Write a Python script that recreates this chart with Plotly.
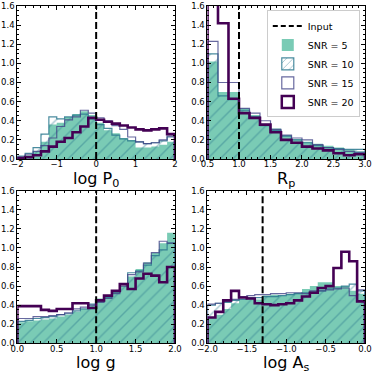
"""Posterior histograms for four parameters at several SNR values."""

import numpy as np
import plotly.graph_objects as go

# ---- data -----------------------------------------------------------------
snr_labels = ['SNR = 5', 'SNR = 10', 'SNR = 15', 'SNR = 20']

# bin ranges / counts for each panel
logp0_range = (-2.0, 2.0, 20)
rp_range = (0.5, 3.0, 15)
logg_range = (0.0, 2.0, 20)
logas_range = (-2.0, 0.0, 20)

# input (true) values
input_values = [0.0, 1.0, 1.0, -1.3]

logp0_snr5 = [0.02, 0.04, 0.08, 0.18, 0.36, 0.38, 0.44, 0.47, 0.50, 0.46,
              0.38, 0.30, 0.27, 0.22, 0.20, 0.12, 0.12, 0.13, 0.15, 0.18]
logp0_snr10 = [0.03, 0.06, 0.12, 0.26, 0.44, 0.42, 0.44, 0.46, 0.47, 0.42,
               0.36, 0.32, 0.25, 0.21, 0.19, 0.18, 0.16, 0.17, 0.19, 0.23]
logp0_snr15 = [0.02, 0.05, 0.08, 0.14, 0.22, 0.34, 0.41, 0.44, 0.51, 0.48,
               0.43, 0.40, 0.35, 0.31, 0.23, 0.18, 0.16, 0.17, 0.20, 0.24]
logp0_snr20 = [0.01, 0.02, 0.04, 0.08, 0.13, 0.18, 0.22, 0.28, 0.34, 0.43,
               0.41, 0.39, 0.37, 0.35, 0.33, 0.31, 0.30, 0.31, 0.32, 0.26]

rp_snr5 = [1.02, 0.70, 0.70, 0.53, 0.46, 0.37, 0.32, 0.25, 0.21, 0.18,
           0.16, 0.14, 0.12, 0.10, 0.08]
rp_snr10 = [1.10, 0.66, 0.62, 0.51, 0.44, 0.35, 0.30, 0.24, 0.20, 0.17,
            0.14, 0.12, 0.11, 0.10, 0.10]
rp_snr15 = [1.23, 0.80, 0.80, 0.53, 0.48, 0.40, 0.31, 0.25, 0.22, 0.20,
            0.15, 0.12, 0.10, 0.08, 0.07]
rp_snr20 = [2.20, 1.42, 0.63, 0.48, 0.43, 0.36, 0.28, 0.20, 0.17, 0.13,
            0.11, 0.09, 0.06, 0.04, 0.05]

logg_snr5 = [0.22, 0.23, 0.24, 0.25, 0.26, 0.28, 0.30, 0.33, 0.36, 0.40,
             0.47, 0.50, 0.55, 0.60, 0.70, 0.78, 0.85, 0.95, 1.05, 1.16]
logg_snr10 = [0.23, 0.24, 0.26, 0.27, 0.28, 0.30, 0.31, 0.34, 0.36, 0.41,
              0.44, 0.48, 0.53, 0.62, 0.74, 0.76, 0.82, 0.92, 0.98, 1.05]
logg_snr15 = [0.26, 0.26, 0.28, 0.28, 0.29, 0.30, 0.32, 0.36, 0.38, 0.40,
              0.43, 0.47, 0.52, 0.60, 0.72, 0.75, 0.84, 0.95, 1.07, 1.05]
logg_snr20 = [0.39, 0.39, 0.39, 0.35, 0.34, 0.36, 0.36, 0.42, 0.42, 0.37,
              0.45, 0.50, 0.55, 0.62, 0.57, 0.68, 0.73, 0.71, 0.64, 0.80]

logas_snr5 = [0.27, 0.30, 0.36, 0.42, 0.46, 0.47, 0.46, 0.50, 0.51, 0.50,
              0.52, 0.53, 0.57, 0.60, 0.64, 0.64, 0.60, 0.60, 0.55, 0.52]
logas_snr10 = [0.40, 0.42, 0.43, 0.45, 0.46, 0.48, 0.48, 0.49, 0.49, 0.50,
               0.51, 0.52, 0.53, 0.54, 0.55, 0.57, 0.58, 0.60, 0.62, 0.55]
logas_snr15 = [0.41, 0.42, 0.44, 0.46, 0.49, 0.50, 0.51, 0.51, 0.52, 0.52,
               0.53, 0.53, 0.52, 0.55, 0.55, 0.56, 0.57, 0.58, 0.50, 0.56]
logas_snr20 = [0.27, 0.33, 0.45, 0.55, 0.48, 0.47, 0.42, 0.41, 0.40, 0.41,
               0.42, 0.45, 0.49, 0.53, 0.58, 0.60, 0.79, 0.96, 0.86, 0.44]

# ---- style ----------------------------------------------------------------
FONT = 'DejaVu Sans'
C_SNR5 = 'rgba(34,168,132,0.6)'
C_SNR10 = 'rgba(42,120,142,0.85)'
C_SNR15 = 'rgba(65,68,135,0.8)'
C_SNR20 = '#440154'

panels = [
    dict(rng=logp0_range, data=[logp0_snr5, logp0_snr10, logp0_snr15, logp0_snr20],
         title='log P<sub>0</sub>', dtick=1, minor=0.2, fmt='d'),
    dict(rng=rp_range, data=[rp_snr5, rp_snr10, rp_snr15, rp_snr20],
         title='R<sub>p</sub>', dtick=0.5, minor=0.1, fmt='.1f'),
    dict(rng=logg_range, data=[logg_snr5, logg_snr10, logg_snr15, logg_snr20],
         title='log g', dtick=0.5, minor=0.1, fmt='.1f'),
    dict(rng=logas_range, data=[logas_snr5, logas_snr10, logas_snr15, logas_snr20],
         title='log A<sub>s</sub>', dtick=0.5, minor=0.1, fmt='.1f'),
]

x_domains = [[0.0463, 0.4679], [0.5548, 0.9759], [0.0463, 0.4679], [0.5548, 0.9759]]
y_domains = [[0.5737, 0.9839], [0.5737, 0.9839], [0.0796, 0.4887], [0.0796, 0.4887]]
title_y = [0.553, 0.553, 0.058, 0.058]


def step_path(edges, values):
    """Outline of a step histogram (used with line_shape='vh')."""
    xs = [edges[0]] + list(edges[1:]) + [edges[-1]]
    ys = [0] + list(values) + [0]
    return xs, ys


fig = go.Figure()

for i, p in enumerate(panels):
    lo, hi, n = p['rng']
    edges = np.linspace(lo, hi, n + 1)
    xa = 'x' if i == 0 else f'x{i + 1}'
    ya = 'y' if i == 0 else f'y{i + 1}'
    s5, s10, s15, s20 = p['data']

    xs, ys = step_path(edges, s5)
    fig.add_trace(go.Scatter(x=xs, y=ys, mode='lines', line_shape='vh',
                             line=dict(width=0, color=C_SNR5), fill='tozeroy',
                             fillcolor=C_SNR5, xaxis=xa, yaxis=ya,
                             showlegend=False, hoverinfo='skip'))
    xs, ys = step_path(edges, s10)
    fig.add_trace(go.Scatter(x=xs, y=ys, mode='lines', line_shape='vh',
                             line=dict(width=1.2, color=C_SNR10), fill='tozeroy',
                             fillcolor='rgba(0,0,0,0)',
                             fillpattern=dict(shape='/', fgcolor=C_SNR10,
                                              bgcolor='rgba(0,0,0,0)', size=9, solidity=0.16),
                             xaxis=xa, yaxis=ya, showlegend=False, hoverinfo='skip'))
    xs, ys = step_path(edges, s15)
    fig.add_trace(go.Scatter(x=xs, y=ys, mode='lines', line_shape='vh',
                             line=dict(width=1.2, color=C_SNR15),
                             xaxis=xa, yaxis=ya, showlegend=False, hoverinfo='skip'))
    xs, ys = step_path(edges, s20)
    fig.add_trace(go.Scatter(x=xs, y=ys, mode='lines', line_shape='vh',
                             line=dict(width=2.6, color=C_SNR20),
                             xaxis=xa, yaxis=ya, showlegend=False, hoverinfo='skip'))

    fig.add_shape(type='line', xref=xa, yref=f'{ya} domain',
                  x0=input_values[i], x1=input_values[i], y0=0, y1=1,
                  line=dict(color='black', width=2, dash='7px,3px'))

    axis_common = dict(showline=True, linecolor='black', linewidth=1, mirror='ticks',
                       ticks='inside', ticklen=4, tickwidth=1, tickcolor='black',
                       showgrid=False, zeroline=False, automargin=False,
                       tickfont=dict(family=FONT, size=8.5, color='black'))
    fig.layout[f'xaxis{i + 1}'] = dict(
        axis_common, domain=x_domains[i], anchor=ya, range=[lo, hi],
        dtick=p['dtick'], tick0=lo, tickformat=p['fmt'], ticklabelstandoff=-3,
        minor=dict(ticks='inside', ticklen=2, dtick=p['minor'], tickcolor='black'))
    fig.layout[f'yaxis{i + 1}'] = dict(
        axis_common, domain=y_domains[i], anchor=xa, range=[0, 1.6],
        dtick=0.2, tickformat='.1f',
        minor=dict(ticks='inside', ticklen=2, dtick=0.05, tickcolor='black'))

    # axis title
    fig.add_annotation(text=p['title'], xref='paper', yref='paper',
                       x=sum(x_domains[i]) / 2, y=title_y[i],
                       xanchor='center', yanchor='top', showarrow=False,
                       font=dict(family=FONT, size=16, color='black'))

# legend-only entries, attached to the top-right panel
fig.add_trace(go.Scatter(x=[None], y=[None], mode='lines', name='Input',
                         line=dict(color='black', width=2, dash='5px,3px'),
                         xaxis='x2', yaxis='y2'))
fig.add_trace(go.Bar(x=[None], y=[None], name=snr_labels[0],
                     marker=dict(color=C_SNR5, line=dict(width=0)),
                     xaxis='x2', yaxis='y2'))
fig.add_trace(go.Bar(x=[None], y=[None], name=snr_labels[1],
                     marker=dict(color='rgba(0,0,0,0)', line=dict(width=1.2, color=C_SNR10),
                                 pattern=dict(shape='/', fgcolor=C_SNR10,
                                              bgcolor='rgba(0,0,0,0)', size=6, solidity=0.2)),
                     xaxis='x2', yaxis='y2'))
fig.add_trace(go.Bar(x=[None], y=[None], name=snr_labels[2],
                     marker=dict(color='rgba(0,0,0,0)', line=dict(width=1.2, color=C_SNR15)),
                     xaxis='x2', yaxis='y2'))
fig.add_trace(go.Bar(x=[None], y=[None], name=snr_labels[3],
                     marker=dict(color='rgba(0,0,0,0)', line=dict(width=2.5, color=C_SNR20)),
                     xaxis='x2', yaxis='y2'))

fig.update_layout(
    width=374, height=373,
    margin=dict(l=0, r=0, t=0, b=0, autoexpand=False),
    paper_bgcolor='white', plot_bgcolor='white',
    font=dict(family=FONT, color='black'),
    barmode='overlay',
    legend=dict(x=0.962, y=0.972, xanchor='right', yanchor='top',
                bgcolor='white', bordercolor='#cccccc', borderwidth=1,
                font=dict(family=FONT, size=9.5, color='black'),
                tracegroupgap=0, itemwidth=30),
)

# the page's default body margin would shift the figure by 8px
fig.write_html("out.html", config={'displayModeBar': False},
               post_script="document.body.style.margin='0px';")
